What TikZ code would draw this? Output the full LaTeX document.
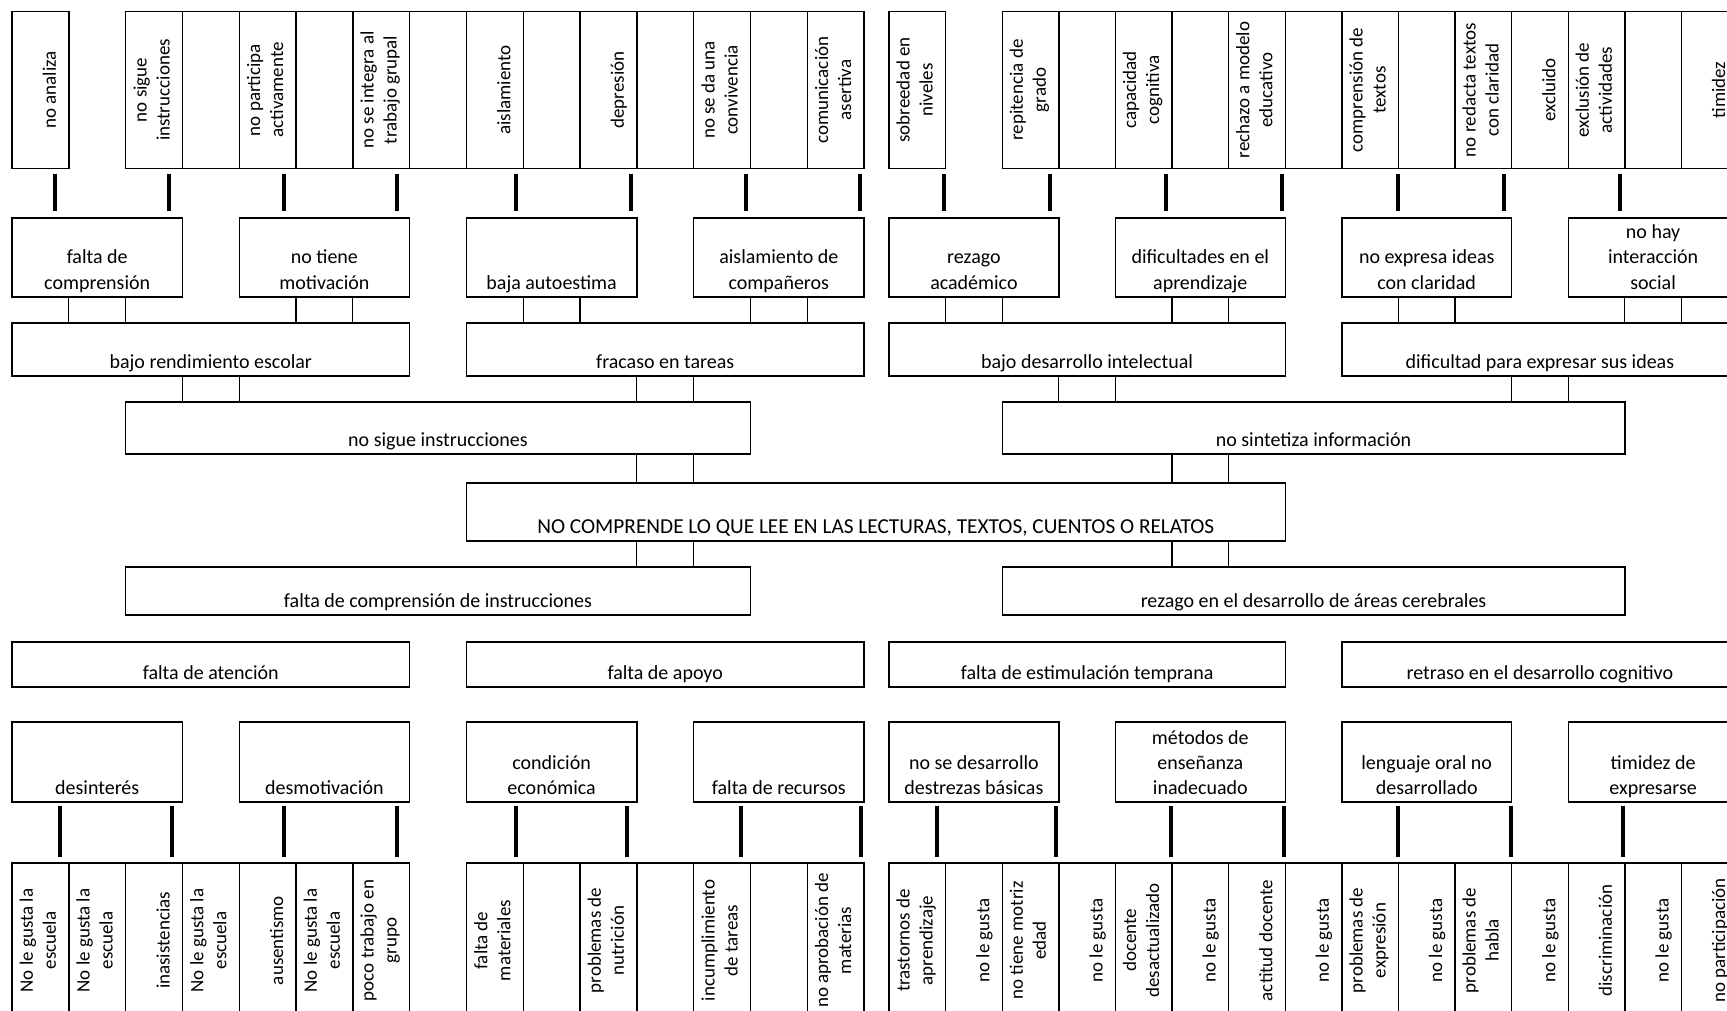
\documentclass[tikz,border=0pt]{standalone}
\usepackage{fontspec}
\setmainfont{Carlito}
\usetikzlibrary{calc}
\newcommand{\hfnt}{\fontsize{20}{25}\selectfont}
\newcommand{\vfnt}{\fontsize{19}{23}\selectfont}
\newcommand{\cfnt}{\fontsize{21.3}{25}\selectfont}
% horizontal box: name, x1, x2, y1, y2, text
\newcommand{\HB}[6]{%
  \pgfmathsetmacro{\myXa}{#2}\pgfmathsetmacro{\myXb}{#3}%
  \pgfmathsetmacro{\myW}{\myXb-\myXa}\pgfmathsetmacro{\myH}{#5-#4}%
  \pgfmathsetmacro{\myCx}{(\myXa+\myXb)/2}\pgfmathsetmacro{\myCy}{(#4+#5)/2}%
  \node[hbx] (#1) at (\myCx,\myCy) {\parbox[c][\myH pt][b]{\myW pt}{\centering\hfnt #6\strut\par\vspace{0.5pt}}};}
% vertical (rotated text) cell: name, x1, x2, y1, y2, text
\newcommand{\VB}[6]{%
  \pgfmathsetmacro{\myXa}{#2}\pgfmathsetmacro{\myXb}{#3}%
  \pgfmathsetmacro{\myW}{\myXb-\myXa}\pgfmathsetmacro{\myH}{#5-#4}%
  \pgfmathsetmacro{\myCx}{(\myXa+\myXb)/2}\pgfmathsetmacro{\myCy}{(#4+#5)/2}%
  \node[hbx, rotate=90] (#1) at (\myCx,\myCy) {\parbox[c][\myW pt][b]{\myH pt}{\centering\vfnt #6\strut\par\vspace{6pt}}};}
% thick bar from top cell down to box
\newcommand{\BT}[3]{\coordinate (k#1#2) at (#3,0);
  \draw[bartop] (#1.west -| k#1#2) -- (#2.north -| k#1#2);}
% thick bar from box down to bottom cell
\newcommand{\BB}[3]{\coordinate (k#1#2) at (#3,0);
  \draw[barbot] (#1.south -| k#1#2) -- (#2.east -| k#1#2);}
% thin connector
\newcommand{\TC}[3]{\draw[conn] (#1.south -| #3) -- (#2.north -| #3);}
\begin{document}
\begin{tikzpicture}[x=1pt,y=-1pt,
  declare function={xl(\k)=12+56.8*\k; xr(\k)=889+56.6*\k;},
  hbx/.style={draw, line width=1.4pt, inner sep=0pt, outer sep=0pt, text=black},
  bartop/.style={line width=4.5pt, shorten <=5.5pt, shorten >=7pt},
  barbot/.style={line width=4.5pt, shorten <=4pt, shorten >=6pt},
  conn/.style={line width=1.2pt}]
\useasboundingbox (0,0) rectangle (1727,1011);
\fill[white] (0,0) rectangle (1727,1011);
\clip (0,0) rectangle (1727,1011);
\foreach \k in {0,...,15} {
  \coordinate (l\k) at ({xl(\k)},0);
  \coordinate (r\k) at ({xr(\k)},0);
}
% ---------- top row, left half ----------
\VB{TL0}{xl(0)}{xl(1)}{11.5}{168.5}{no analiza}
\VB{TL2}{xl(2)}{xl(3)}{11.5}{168.5}{no sigue\\instrucciones}
\VB{TL3}{xl(3)}{xl(4)}{11.5}{168.5}{}
\VB{TL4}{xl(4)}{xl(5)}{11.5}{168.5}{no participa\\activamente}
\VB{TL5}{xl(5)}{xl(6)}{11.5}{168.5}{}
\VB{TL6}{xl(6)}{xl(7)}{11.5}{168.5}{no se integra al\\trabajo grupal}
\VB{TL7}{xl(7)}{xl(8)}{11.5}{168.5}{}
\VB{TL8}{xl(8)}{xl(9)}{11.5}{168.5}{aislamiento}
\VB{TL9}{xl(9)}{xl(10)}{11.5}{168.5}{}
\VB{TL10}{xl(10)}{xl(11)}{11.5}{168.5}{depresión}
\VB{TL11}{xl(11)}{xl(12)}{11.5}{168.5}{}
\VB{TL12}{xl(12)}{xl(13)}{11.5}{168.5}{no se da una\\convivencia}
\VB{TL13}{xl(13)}{xl(14)}{11.5}{168.5}{}
\VB{TL14}{xl(14)}{xl(15)}{11.5}{168.5}{comunicación\\asertiva}
% ---------- top row, right half ----------
\VB{TR0}{xr(0)}{xr(1)}{11.5}{168.5}{sobreedad en\\niveles}
\VB{TR2}{xr(2)}{xr(3)}{11.5}{168.5}{repitencia de\\grado}
\VB{TR3}{xr(3)}{xr(4)}{11.5}{168.5}{}
\VB{TR4}{xr(4)}{xr(5)}{11.5}{168.5}{capacidad\\cognitiva}
\VB{TR5}{xr(5)}{xr(6)}{11.5}{168.5}{}
\VB{TR6}{xr(6)}{xr(7)}{11.5}{168.5}{rechazo a modelo\\educativo}
\VB{TR7}{xr(7)}{xr(8)}{11.5}{168.5}{}
\VB{TR8}{xr(8)}{xr(9)}{11.5}{168.5}{comprensión de\\textos}
\VB{TR9}{xr(9)}{xr(10)}{11.5}{168.5}{}
\VB{TR10}{xr(10)}{xr(11)}{11.5}{168.5}{no redacta textos\\con claridad}
\VB{TR11}{xr(11)}{xr(12)}{11.5}{168.5}{excluido}
\VB{TR12}{xr(12)}{xr(13)}{11.5}{168.5}{exclusión de\\actividades}
\VB{TR13}{xr(13)}{xr(14)}{11.5}{168.5}{}
\VB{TR14}{xr(14)}{xr(15)}{11.5}{168.5}{timidez}
% ---------- level 2 ----------
\HB{LA}{xl(0)}{xl(3)}{218}{297}{falta de\\comprensión}
\HB{LB}{xl(4)}{xl(7)}{218}{297}{no tiene\\motivación}
\HB{LC}{xl(8)}{xl(11)}{218}{297}{baja autoestima}
\HB{LD}{xl(12)}{xl(15)}{218}{297}{aislamiento de\\compañeros}
\HB{RA}{xr(0)}{xr(3)}{218}{297}{rezago\\académico}
\HB{RB}{xr(4)}{xr(7)}{218}{297}{dificultades en el\\aprendizaje}
\HB{RC}{xr(8)}{xr(11)}{218}{297}{no expresa ideas\\con claridad}
\HB{RD}{xr(12)}{xr(15)}{218}{297}{no hay\\interacción\\social}
% ---------- level 3 ----------
\HB{L3a}{xl(0)}{xl(7)}{323}{376}{bajo rendimiento escolar}
\HB{L3b}{xl(8)}{xl(15)}{323}{376}{fracaso en tareas}
\HB{R3a}{xr(0)}{xr(7)}{323}{376}{bajo desarrollo intelectual}
\HB{R3b}{xr(8)}{xr(15)}{323}{376}{dificultad para expresar sus ideas}
% ---------- level 4 ----------
\HB{L4}{xl(2)}{xl(13)}{402}{454}{no sigue instrucciones}
\HB{R4}{xr(2)}{xr(13)}{402}{454}{no sintetiza información}
% ---------- central ----------
\HB{C}{xl(8)}{xr(7)}{483}{541}{\cfnt NO COMPRENDE LO QUE LEE EN LAS LECTURAS, TEXTOS, CUENTOS O RELATOS}
% ---------- level 5 ----------
\HB{L5}{xl(2)}{xl(13)}{567}{615}{falta de comprensión de instrucciones}
\HB{R5}{xr(2)}{xr(13)}{567}{615}{rezago en el desarrollo de áreas cerebrales}
% ---------- level 6 ----------
\HB{L6a}{xl(0)}{xl(7)}{642}{687}{falta de atención}
\HB{L6b}{xl(8)}{xl(15)}{642}{687}{falta de apoyo}
\HB{R6a}{xr(0)}{xr(7)}{642}{687}{falta de estimulación temprana}
\HB{R6b}{xr(8)}{xr(15)}{642}{687}{retraso en el desarrollo cognitivo}
% ---------- level 7 ----------
\HB{MA}{xl(0)}{xl(3)}{722}{802}{desinterés}
\HB{MB}{xl(4)}{xl(7)}{722}{802}{desmotivación}
\HB{MC}{xl(8)}{xl(11)}{722}{802}{condición\\económica}
\HB{MD}{xl(12)}{xl(15)}{722}{802}{falta de recursos}
\HB{NA}{xr(0)}{xr(3)}{722}{802}{no se desarrollo\\destrezas básicas}
\HB{NB}{xr(4)}{xr(7)}{722}{802}{métodos de\\enseñanza\\inadecuado}
\HB{NC}{xr(8)}{xr(11)}{722}{802}{lenguaje oral no\\desarrollado}
\HB{ND}{xr(12)}{xr(15)}{722}{802}{timidez de\\expresarse}
% ---------- bottom row, left half ----------
\VB{BL0}{xl(0)}{xl(1)}{863}{1018}{No le gusta la\\escuela}
\VB{BL1}{xl(1)}{xl(2)}{863}{1018}{No le gusta la\\escuela}
\VB{BL2}{xl(2)}{xl(3)}{863}{1018}{inasistencias}
\VB{BL3}{xl(3)}{xl(4)}{863}{1018}{No le gusta la\\escuela}
\VB{BL4}{xl(4)}{xl(5)}{863}{1018}{ausentismo}
\VB{BL5}{xl(5)}{xl(6)}{863}{1018}{No le gusta la\\escuela}
\VB{BL6}{xl(6)}{xl(7)}{863}{1018}{poco trabajo en\\grupo}
\VB{BL8}{xl(8)}{xl(9)}{863}{1018}{falta de\\materiales}
\VB{BL9}{xl(9)}{xl(10)}{863}{1018}{}
\VB{BL10}{xl(10)}{xl(11)}{863}{1018}{problemas de\\nutrición}
\VB{BL11}{xl(11)}{xl(12)}{863}{1018}{}
\VB{BL12}{xl(12)}{xl(13)}{863}{1018}{incumplimiento\\de tareas}
\VB{BL13}{xl(13)}{xl(14)}{863}{1018}{}
\VB{BL14}{xl(14)}{xl(15)}{863}{1018}{no aprobación de\\materias}
% ---------- bottom row, right half ----------
\VB{BR0}{xr(0)}{xr(1)}{863}{1018}{trastornos de\\aprendizaje}
\VB{BR1}{xr(1)}{xr(2)}{863}{1018}{no le gusta}
\VB{BR2}{xr(2)}{xr(3)}{863}{1018}{no tiene motriz\\edad}
\VB{BR3}{xr(3)}{xr(4)}{863}{1018}{no le gusta}
\VB{BR4}{xr(4)}{xr(5)}{863}{1018}{docente\\desactualizado}
\VB{BR5}{xr(5)}{xr(6)}{863}{1018}{no le gusta}
\VB{BR6}{xr(6)}{xr(7)}{863}{1018}{actitud docente}
\VB{BR7}{xr(7)}{xr(8)}{863}{1018}{no le gusta}
\VB{BR8}{xr(8)}{xr(9)}{863}{1018}{problemas de\\expresión}
\VB{BR9}{xr(9)}{xr(10)}{863}{1018}{no le gusta}
\VB{BR10}{xr(10)}{xr(11)}{863}{1018}{problemas de\\habla}
\VB{BR11}{xr(11)}{xr(12)}{863}{1018}{no le gusta}
\VB{BR12}{xr(12)}{xr(13)}{863}{1018}{discriminación}
\VB{BR13}{xr(13)}{xr(14)}{863}{1018}{no le gusta}
\VB{BR14}{xr(14)}{xr(15)}{863}{1018}{no participación}
% ---------- thick bars, top ----------
\BT{TL0}{LA}{55}
\BT{TL2}{LA}{169}
\BT{TL4}{LB}{284}
\BT{TL6}{LB}{397}
\BT{TL8}{LC}{516}
\BT{TL10}{LC}{631}
\BT{TL12}{LD}{746}
\BT{TL14}{LD}{860}
\BT{TR0}{RA}{944}
\BT{TR2}{RA}{1050}
\BT{TR4}{RB}{1166}
\BT{TR6}{RB}{1282}
\BT{TR8}{RC}{1398}
\BT{TR10}{RC}{1504}
\BT{TR12}{RD}{1620}
% ---------- thick bars, bottom ----------
\BB{MA}{BL0}{60}
\BB{MA}{BL2}{172}
\BB{MB}{BL4}{284}
\BB{MB}{BL6}{397}
\BB{MC}{BL8}{516}
\BB{MC}{BL10}{627}
\BB{MD}{BL12}{741}
\BB{MD}{BL14}{861}
\BB{NA}{BR0}{937}
\BB{NA}{BR2}{1056}
\BB{NB}{BR4}{1171}
\BB{NB}{BR6}{1284}
\BB{NC}{BR8}{1398}
\BB{NC}{BR10}{1511}
\BB{ND}{BR12}{1623}
% ---------- thin connectors ----------
\TC{LA}{L3a}{l1} \TC{LA}{L3a}{l2}
\TC{LB}{L3a}{l5} \TC{LB}{L3a}{l6}
\TC{LC}{L3b}{l9} \TC{LC}{L3b}{l10}
\TC{LD}{L3b}{l13} \TC{LD}{L3b}{l14}
\TC{L3a}{L4}{l3} \TC{L3a}{L4}{l4}
\TC{L3b}{L4}{l11} \TC{L3b}{L4}{l12}
\TC{L4}{C}{l11} \TC{L4}{C}{l12}
\TC{C}{L5}{l11} \TC{C}{L5}{l12}
\TC{RA}{R3a}{r1} \TC{RA}{R3a}{r2}
\TC{RB}{R3a}{r5} \TC{RB}{R3a}{r6}
\TC{RC}{R3b}{r9} \TC{RC}{R3b}{r10}
\TC{RD}{R3b}{r13} \TC{RD}{R3b}{r14}
\TC{R3a}{R4}{r3} \TC{R3a}{R4}{r4}
\TC{R3b}{R4}{r11} \TC{R3b}{R4}{r12}
\TC{R4}{C}{r5} \TC{R4}{C}{r6}
\TC{C}{R5}{r5} \TC{C}{R5}{r6}
\end{tikzpicture}
\end{document}
